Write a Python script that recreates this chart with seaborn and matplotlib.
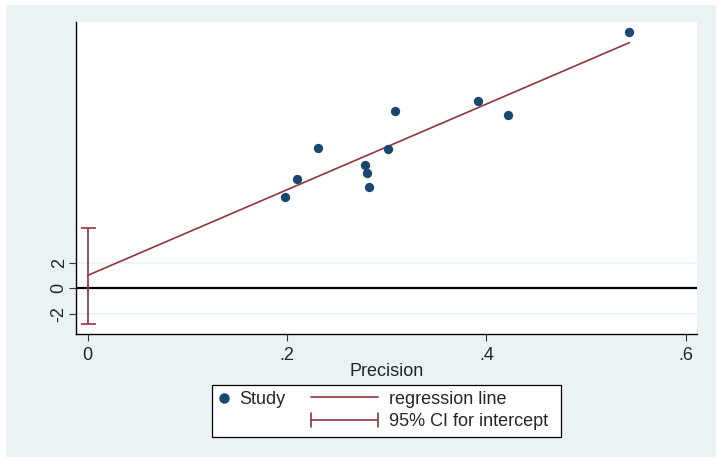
import numpy as np
import pandas as pd
import seaborn as sns
import matplotlib
matplotlib.use('Agg')
import matplotlib.pyplot as plt
from matplotlib.lines import Line2D
from matplotlib.patches import Rectangle
from matplotlib.legend_handler import HandlerBase

sns.set_style('white')
plt.rcParams['font.family'] = ['Liberation Sans', 'DejaVu Sans']

# study data (precision vs standardised effect)
precision = [0.1977, 0.2097, 0.2308, 0.2782, 0.2799, 0.2819, 0.3013, 0.3083, 0.3916, 0.4217, 0.5434]
std_effect = [7.08, 8.50, 10.90, 9.53, 8.96, 7.83, 10.82, 13.72, 14.52, 13.41, 19.87]

# regression line end points and intercept CI
reg_x = [0.0, 0.5434]
reg_y = [1.0, 19.04]
ci_low, ci_high = -2.79, 4.67

xticks = [0, 0.2, 0.4, 0.6]
xtick_labels = ['0', '.2', '.4', '.6']
yticks = [-2, 0, 2]
ytick_labels = ['-2', '0', '2']

navy = '#1a476f'
maroon = '#90353b'
bg = '#eaf2f3'
fs = 13

df = pd.DataFrame({'precision': precision, 'effect': std_effect})
reg = pd.DataFrame({'x': reg_x, 'y': reg_y})

fig = plt.figure(figsize=(7.22, 4.63), dpi=100)
fig.patch.set_facecolor('white')
fig.patches.append(Rectangle((6 / 722, 6 / 463), 710 / 722, 452 / 463, transform=fig.transFigure,
                             facecolor=bg, edgecolor='none', zorder=-10))

ax = fig.add_axes([76 / 722, (463 - 334) / 463, 621 / 722, 312 / 463])
ax.set_facecolor('white')

for yv in [-2, 2]:
    ax.axhline(yv, color=bg, lw=1.2, zorder=0)
ax.axhline(0, color='black', lw=1.6, zorder=1)

sns.lineplot(data=reg, x='x', y='y', color=maroon, lw=1.2, ax=ax, zorder=2)
ax.errorbar([0], [(ci_low + ci_high) / 2], yerr=[(ci_high - ci_low) / 2], fmt='none',
            ecolor=maroon, elinewidth=1.2, capsize=5.4, capthick=1.2, zorder=2)
sns.scatterplot(data=df, x='precision', y='effect', color=navy, s=45, edgecolor=navy,
                linewidth=0, ax=ax, zorder=3)

ax.set_xlim(-0.0117, 0.6113)
ax.set_ylim(-3.54, 20.64)
ax.set_xticks(xticks)
ax.set_xticklabels(xtick_labels)
ax.set_yticks(yticks)
ax.set_yticklabels(ytick_labels, rotation=90, va='center')
ax.tick_params(axis='both', direction='out', length=5, width=0.8, color='#333333',
               labelsize=fs, bottom=True, left=True)
ax.tick_params(axis='x', pad=4)
ax.tick_params(axis='y', pad=1)
ax.set_xlabel('Precision', fontsize=fs, labelpad=0)
ax.set_ylabel('')
for side in ['top', 'right']:
    ax.spines[side].set_visible(False)
for side in ['left', 'bottom']:
    ax.spines[side].set_color('black')
    ax.spines[side].set_linewidth(1.0)


class CIHandler(HandlerBase):
    def create_artists(self, legend, orig_handle, xdescent, ydescent, width, height, fontsize, trans):
        yc = height / 2 - ydescent
        h = height * 0.55
        arts = [Line2D([-xdescent, width - xdescent], [yc, yc]),
                Line2D([-xdescent, -xdescent], [yc - h, yc + h]),
                Line2D([width - xdescent, width - xdescent], [yc - h, yc + h])]
        for a in arts:
            a.set_color(maroon)
            a.set_linewidth(1.2)
            a.set_transform(trans)
        return arts


# legend frame
fig.patches.append(Rectangle((212 / 722, 1 - 437 / 463), 349 / 722, 52 / 463, transform=fig.transFigure,
                             facecolor='white', edgecolor='black', lw=0.9, zorder=1))

study_h = Line2D([], [], marker='o', ls='none', color=navy, markersize=6.5)
leg1 = fig.legend([study_h], ['Study'], loc='center left', bbox_to_anchor=(217 / 722, 1 - 400 / 463),
                  fontsize=fs, frameon=False, handlelength=0.8, handletextpad=0.45,
                  borderpad=0, borderaxespad=0)

reg_h = Line2D([], [], color=maroon, lw=1.2)
ci_h = Rectangle((0, 0), 1, 1)
leg2 = fig.legend([reg_h, ci_h], ['regression line', '95% CI for intercept'],
                  handler_map={Rectangle: CIHandler()},
                  loc='center left', bbox_to_anchor=(311 / 722, 1 - 410.5 / 463), fontsize=fs,
                  frameon=False, handlelength=3.7, handletextpad=0.6, labelspacing=0.3,
                  borderpad=0, borderaxespad=0)

fig.savefig('out.png', dpi=100)
